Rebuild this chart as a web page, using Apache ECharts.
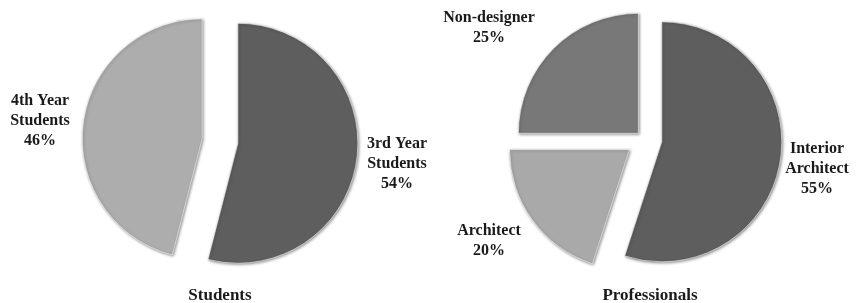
<!DOCTYPE html>
<html>
<head>
<meta charset="utf-8">
<script src="https://cdn.jsdelivr.net/npm/echarts@6/dist/echarts.min.js"></script>
<style>
html,body{margin:0;padding:0;background:#fff;}
#chart{width:856px;height:303px;}
</style>
</head>
<body>
<div id="chart"></div>
<script>
// ---- data ----
var studentCategories = ['3rd Year\nStudents', '4th Year\nStudents'];
var studentValues = [54, 46];
var professionalCategories = ['Interior\nArchitect', 'Architect', 'Non-designer'];
var professionalValues = [55, 20, 25];
var chartTitles = ['Students', 'Professionals'];

// ---- style / layout ----
var FONT = '"Liberation Serif", "DejaVu Serif", serif';
var studentColors = ['#5e5e5e', '#adadad'];
var professionalColors = ['#5e5e5e', '#a9a9a9', '#787878'];
var studentLabelPos = [[397, 164], [40, 121]];
var profLabelPos = [[817, 169], [489, 241], [489, 28]];
var studentCenter = [220, 141];
var profCenter = [644, 139];

function itemStyle(c) {
  return {
    color: c,
    borderColor: 'rgba(255,255,255,0.55)',
    borderWidth: 1,
    shadowBlur: 3,
    shadowColor: 'rgba(0,0,0,0.45)',
    shadowOffsetX: 1,
    shadowOffsetY: 1
  };
}
function hiddenItem(name, v) {
  return { name: name, value: v, itemStyle: { color: 'transparent', borderWidth: 0, shadowBlur: 0 }, selected: false };
}

var studentData = studentValues.map(function (v, i) {
  return { name: studentCategories[i], value: v, selected: true, itemStyle: itemStyle(studentColors[i]) };
});
// Interior Architect + Architect exploded further; Non-designer drawn separately with a smaller offset
var profDataMain = professionalValues.map(function (v, i) {
  if (i === 2) return hiddenItem(professionalCategories[i], v);
  return { name: professionalCategories[i], value: v, selected: true, itemStyle: itemStyle(professionalColors[i]) };
});
var profDataND = professionalValues.map(function (v, i) {
  if (i !== 2) return hiddenItem(professionalCategories[i], v);
  return { name: professionalCategories[i], value: v, selected: true, itemStyle: itemStyle(professionalColors[i]) };
});

function pieSeries(data, center, offset) {
  return {
    type: 'pie',
    center: center,
    radius: 120,
    startAngle: 90,
    clockwise: true,
    selectedMode: 'multiple',
    selectedOffset: offset,
    animation: false,
    emphasis: { disabled: true },
    label: { show: false },
    labelLine: { show: false },
    data: data
  };
}

// transparent pie with the same values that only carries the text labels
function labelSeries(names, values, center, labelPos) {
  return {
    type: 'pie',
    center: center,
    radius: 120,
    startAngle: 90,
    clockwise: true,
    silent: true,
    animation: false,
    avoidLabelOverlap: false,
    emphasis: { disabled: true },
    itemStyle: { color: 'transparent', borderWidth: 0 },
    label: {
      show: true,
      position: 'outside',
      formatter: '{b}\n{d}%',
      fontFamily: FONT,
      fontWeight: 'bold',
      fontSize: 16,
      lineHeight: 20,
      color: '#1a1a1a',
      align: 'center'
    },
    labelLine: { show: false },
    labelLayout: function (p) {
      var pos = labelPos[p.dataIndex];
      return { x: pos[0], y: pos[1], align: 'center', verticalAlign: 'middle', moveOverlap: null };
    },
    z: 5,
    data: values.map(function (v, i) { return { name: names[i], value: v }; })
  };
}

var chart = echarts.init(document.getElementById('chart'), null, { renderer: 'canvas' });
chart.setOption({
  backgroundColor: '#ffffff',
  animation: false,
  title: [
    { text: chartTitles[0], left: 215, top: 282, textAlign: 'center',
      textStyle: { fontFamily: FONT, fontWeight: 'bold', fontSize: 17, color: '#1a1a1a' } },
    { text: chartTitles[1], left: 645, top: 282, textAlign: 'center',
      textStyle: { fontFamily: FONT, fontWeight: 'bold', fontSize: 17, color: '#1a1a1a' } }
  ],
  series: [
    pieSeries(studentData, studentCenter, 18),
    pieSeries(profDataMain, profCenter, 18),
    pieSeries(profDataND, profCenter, 8),
    labelSeries(studentCategories, studentValues, studentCenter, studentLabelPos),
    labelSeries(professionalCategories, professionalValues, profCenter, profLabelPos)
  ]
});
</script>
</body>
</html>
